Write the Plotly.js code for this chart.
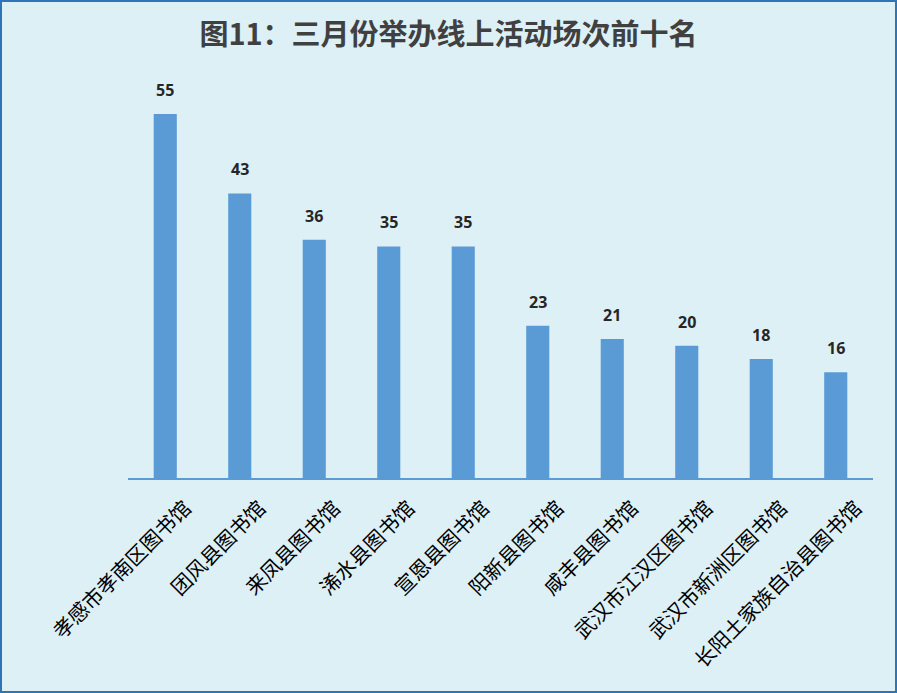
<!DOCTYPE html>
<html>
<head>
<meta charset="utf-8">
<script src="https://cdn.plot.ly/plotly-3.0.1.min.js"></script>
<style>
html,body{margin:0;padding:0;background:#DDF0F6;}
#wrap{position:relative;width:897px;height:693px;}
#chart{width:897px;height:693px;}
#frame{position:absolute;left:0;top:0;width:897px;height:693px;box-sizing:border-box;border:2px solid #2E75B6;pointer-events:none;}
</style>
</head>
<body>
<div id="wrap"><div id="chart"></div><div id="frame"></div></div>
<script>
const categories = ["孝感市孝南区图书馆","团风县图书馆","来凤县图书馆","浠水县图书馆","宣恩县图书馆","阳新县图书馆","咸丰县图书馆","武汉市江汉区图书馆","武汉市新洲区图书馆","长阳土家族自治县图书馆"];
const values = [55, 43, 36, 35, 35, 23, 21, 20, 18, 16];
const titleText = "图11：三月份举办线上活动场次前十名";

const trace = {
  type: "bar",
  x: categories,
  y: values,
  marker: {color: "#5B9BD5"},
  hoverinfo: "x+y"
};

const annotations = categories.map((c, i) => ({
  x: c, y: values[i], xref: "x", yref: "y",
  text: "<b>" + values[i] + "</b>",
  showarrow: false, yanchor: "bottom", yshift: 11,
  font: {family: "Open Sans, Noto Sans, sans-serif", size: 16, color: "#262626"}
}));

const layout = {
  width: 897, height: 693,
  paper_bgcolor: "#DDF0F6", plot_bgcolor: "#DDF0F6",
  margin: {l: 128, r: 24, t: 81, b: 215},
  bargap: 0.69,
  showlegend: false,
  title: {
    text: "<b>" + titleText + "</b>",
    x: 0.5, xref: "container", xanchor: "center", y: 0.95, yanchor: "middle",
    font: {family: "Noto Sans CJK SC, sans-serif", size: 29, color: "#404040"}
  },
  xaxis: {
    showline: true, linecolor: "#5B9BD5", linewidth: 2,
    ticks: "", tickangle: -45,
    ticklabelshift: 20, ticklabelstandoff: 8,
    tickfont: {family: "Noto Sans CJK SC, sans-serif", size: 20.5, color: "#000000"},
    showgrid: false, zeroline: false
  },
  yaxis: {
    range: [0, 60], visible: false, showgrid: false, zeroline: false
  },
  annotations: annotations
};

Plotly.newPlot("chart", [trace], layout, {displayModeBar: false, staticPlot: true});
</script>
</body>
</html>
